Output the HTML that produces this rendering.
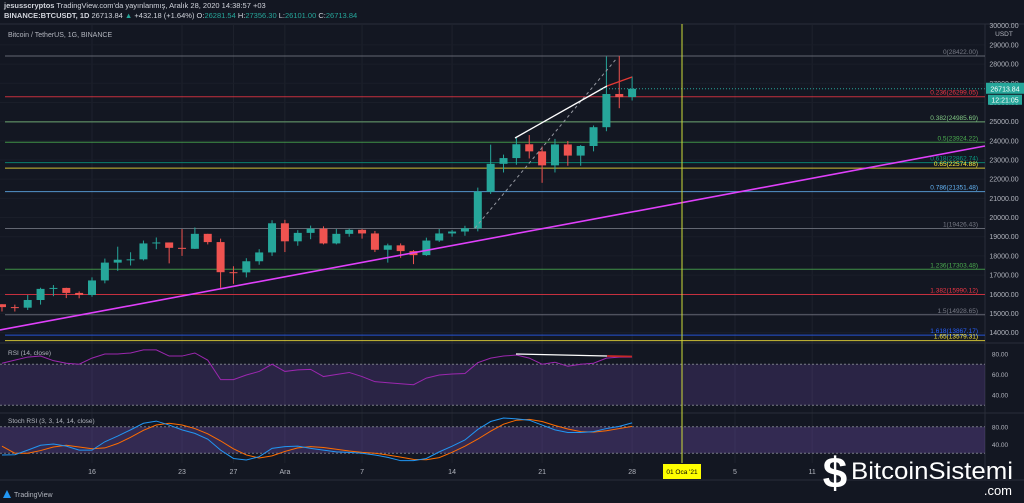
<!DOCTYPE html>
<html><head><meta charset="utf-8">
<style>
html,body{margin:0;padding:0;background:#131722;width:1024px;height:503px;overflow:hidden;font-family:"Liberation Sans",sans-serif;}
svg{display:block}
</style></head>
<body>
<svg id="c" width="1024" height="503" xmlns="http://www.w3.org/2000/svg">
<rect x="0" y="0" width="1024" height="503" fill="#131722"/>
<text x="4" y="8" fill="#d1d4dc" font-size="7.5"><tspan font-weight="bold">jesusscryptos</tspan> TradingView.com'da yayınlanmış, Aralık 28, 2020 14:38:57 +03</text>
<text x="4" y="18" fill="#d1d4dc" font-size="7.5"><tspan font-weight="bold">BINANCE:BTCUSDT, 1D</tspan> 26713.84 <tspan fill="#26a69a">▲</tspan> +432.18 (+1.64%) O:<tspan fill="#26a69a">26281.54</tspan> H:<tspan fill="#26a69a">27356.30</tspan> L:<tspan fill="#26a69a">26101.00</tspan> C:<tspan fill="#26a69a">26713.84</tspan></text>
<line x1="0" y1="24" x2="1024" y2="24" fill="none" stroke="#2a2e39"/>
<g id="grid"></g>
<g id="fib"></g>
<g id="price"></g>
<g id="rsi"></g>
<g id="stoch"></g>
<text x="8" y="37" fill="#b2b5be" font-size="7">Bitcoin / TetherUS, 1G, BINANCE</text>
</svg>
<script>
// ---- data ----
const dayOffsets = [-7,-6,-5,-4,-3,-2,-1,0,1,2,3,4,5,6,7,8,9,10,11,12,13,14,15,16,17,18,19,20,21,22,23,24,25,26,27,28,29,30,31,32,33,34,35,36,37,38,39,40,41,42];
const closes = [15330,15300,15700,16280,16330,16070,15960,16720,17650,17800,17820,18650,18700,18420,18370,19150,18720,17150,17140,17720,18180,19700,18760,19200,19420,18650,19150,19360,19170,18320,18550,18250,18040,18800,19170,19270,19440,21350,22800,23100,23820,23450,22720,23810,23230,23730,24710,26440,26280,26713];
const opens = [15480,15330,15300,15700,16280,16330,16070,15960,16720,17650,17800,17820,18650,18700,18420,18370,19150,18720,17150,17140,17720,18180,19700,18760,19200,19420,18650,19150,19360,19170,18320,18550,18250,18040,18800,19170,19270,19440,21350,22800,23100,23820,23450,22720,23810,23230,23730,24710,26440,26281];
const highs = [15480,15460,15960,16340,16480,16340,16150,16880,17860,18480,18190,18800,18960,18700,19400,19480,19150,18900,17460,17880,18350,19860,19880,19340,19580,19540,19400,19420,19400,19300,18640,18650,18300,18950,19400,19350,19570,21560,23800,23280,24150,24300,23700,24100,23990,23780,24800,28400,28420,27356];
const lows = [15100,15100,15180,15460,15900,15800,15790,15870,16570,17220,17500,17760,18350,17610,18000,18360,18600,16330,16540,16880,17540,18000,18200,18530,18870,18600,18600,19000,18900,18200,17650,17900,17570,18000,18730,19000,19050,19280,21230,22350,22750,23080,21810,22350,22700,22700,23450,24500,25700,26101];
const rsiValues = [71,74,77,78,73.5,71,70,76,80,80,81,84,84,78,78,81,74,55,55,59.5,63,70,63,64.5,65,58,60,62,58,53,52,51,50,56.5,59.5,60.5,61,71.5,76,78,79,76,70,72,68,70,71,76,77,77];
const stochK = [16,16.5,27,38,41,36,27,27,46,59,73,88,93,84,73,65,52,27,8,4.5,12,31,35,36,31,27,23,22,20,16,10.6,3,3,8,23,36,50,74,92,100,98,95,84,73,67,67,69,76,81,89];
const stochD = [36,20,20,26,34,38,34,30,32,42,56,72,84,88,84,76,64,48,30,16,9,14,24,32,35,33,29,25,22,20,16,11,6,5,10,22,36,52,70,86,95,97,92,83,75,69,68,71,76,81];
const fibRatios = ["0","0.236","0.382","0.5","0.618","0.65","0.786","1","1.236","1.382","1.5","1.618","1.65"];
const fibPrices = [28422.00,26299.05,24985.69,23924.22,22862.74,22574.88,21351.48,19426.43,17303.48,15990.12,14928.65,13867.17,13579.31];
const fibColors = ["#787b86","#f23645","#81c784","#4caf50","#089981","#ffeb3b","#64b5f6","#787b86","#4caf50","#f23645","#787b86","#2962ff","#ffeb3b"];
const priceTicks = [29000,28000,27000,26000,25000,24000,23000,22000,21000,20000,19000,18000,17000,16000,15000,14000];
const xTickLabels = ["16","23","27","Ara","7","14","21","28","5","11"];
const xTickDays = [0,7,11,15,21,28,35,42,50,56];
const rsiTicks = [80,60,40];
const stochTicks = [80,40];
const lastPrice = 26713.84;

// ---- axes ----
const NS="http://www.w3.org/2000/svg";
const PLOT_R=985;
const xDay=d=>92+d*12.86;
const yP=p=>56+(28422-p)*0.01918;
const yR=v=>354+(80-v)*1.025;
const yS=v=>462-v*0.44;
function mk(tag,attrs,parent,text){const e=document.createElementNS(NS,tag);for(const k in attrs)e.setAttribute(k,attrs[k]);if(text!==undefined)e.textContent=text;parent.appendChild(e);return e;}
const grid=document.getElementById('grid'),fib=document.getElementById('fib'),price=document.getElementById('price'),rsiG=document.getElementById('rsi'),st=document.getElementById('stoch');

// grid
xTickDays.forEach((d,i)=>{
  const l=mk('line',{x1:xDay(d),x2:xDay(d),y1:24,y2:463,stroke:'#1e222d'},grid);
  
  
  const t=mk('text',{x:xDay(d),y:474,fill:'#b2b5be','font-size':7,'text-anchor':'middle'},grid,xTickLabels[i]);
  
  
});
priceTicks.forEach(p=>{
  const l=mk('line',{x1:0,x2:PLOT_R,y1:yP(p),y2:yP(p),stroke:'#1a1e29'},grid);
  
  
  const t=mk('text',{x:1004,y:yP(p)+2.5,fill:'#b2b5be','font-size':7,'text-anchor':'middle'},grid,p.toFixed(2));
  
  
});
let tt=mk('text',{x:1004,y:28,fill:'#b2b5be','font-size':7,'text-anchor':'middle'},grid,'30000.00');


tt=mk('text',{x:1004,y:36,fill:'#b2b5be','font-size':6.5,'text-anchor':'middle'},grid,'USDT');


let ax=mk('line',{x1:PLOT_R,x2:PLOT_R,y1:24,y2:480,stroke:'#2a2e39'},grid);


ax=mk('line',{x1:0,x2:1024,y1:480,y2:480,stroke:'#2a2e39'},grid);



// fib levels
fibPrices.forEach((p,i)=>{
  const l=mk('line',{x1:5,x2:PLOT_R,y1:yP(p),y2:yP(p),stroke:fibColors[i],'stroke-width':1,opacity:0.8},fib);
  
  
  const t=mk('text',{x:978,y:yP(p)-2,fill:fibColors[i],'font-size':6.5,'text-anchor':'end'},fib,fibRatios[i]+'('+p.toFixed(2)+')');
  
  
});

// candles
closes.forEach((c,i)=>{
  const o=opens[i],x=xDay(dayOffsets[i]);const up=c>=o;const col=up?'#26a69a':'#ef5350';
  const w=mk('line',{x1:x,x2:x,y1:yP(highs[i]),y2:yP(lows[i]),stroke:col,'stroke-width':1},price);
  
  
  const top=yP(Math.max(o,c)),h=Math.max(1,Math.abs(yP(o)-yP(c)));
  const b=mk('rect',{x:x-4,y:top,width:8,height:h,fill:col},price);
  
  
});

// drawings
let e=mk('line',{x1:0,y1:330,x2:PLOT_R,y2:146,stroke:'#e040fb','stroke-width':1.6},price);


e=mk('line',{x1:475,y1:228,x2:617,y2:58,stroke:'#9598a1','stroke-width':1,'stroke-dasharray':'3,3'},price);


e=mk('line',{x1:515,y1:138,x2:607,y2:86,stroke:'#ffffff','stroke-width':1.3},price);


e=mk('line',{x1:607,y1:86,x2:632,y2:77,stroke:'#e53935','stroke-width':1.3},price);


e=mk('line',{x1:600,y1:yP(lastPrice),x2:PLOT_R,y2:yP(lastPrice),stroke:'#26a69a','stroke-dasharray':'1,2'},price);


e=mk('rect',{x:986,y:yP(lastPrice)-6,width:38,height:11,fill:'#26a69a'},price);


e=mk('text',{x:1005,y:yP(lastPrice)+2.5,fill:'#fff','font-size':7,'text-anchor':'middle'},price,lastPrice.toFixed(2));


e=mk('rect',{x:988,y:yP(lastPrice)+6,width:34,height:10,fill:'#26a69a'},price);


e=mk('text',{x:1005,y:yP(lastPrice)+13.5,fill:'#fff','font-size':7,'text-anchor':'middle'},price,'12:21:05');



// RSI panel
e=mk('line',{x1:0,x2:1024,y1:343,y2:343,stroke:'#2a2e39'},rsiG);


e=mk('rect',{x:0,y:yR(70),width:PLOT_R,height:yR(30)-yR(70),fill:'#7e57c2',opacity:0.22},rsiG);


[70,30].forEach(v=>{const l=mk('line',{x1:0,x2:PLOT_R,y1:yR(v),y2:yR(v),stroke:'#787b86','stroke-dasharray':'2,2'},rsiG);

});
rsiTicks.forEach(v=>{const t=mk('text',{x:1000,y:yR(v)+2.5,fill:'#b2b5be','font-size':6.5,'text-anchor':'middle'},rsiG,v.toFixed(2));

});
e=mk('polyline',{points:rsiValues.map((v,i)=>xDay(dayOffsets[i])+','+yR(v)).join(' '),fill:'none',stroke:'#9c27b0','stroke-width':1},rsiG);


e=mk('line',{x1:516,y1:354,x2:607,y2:356,stroke:'#ffffff','stroke-width':1.3},rsiG);


e=mk('line',{x1:607,y1:356,x2:632,y2:356.5,stroke:'#c62828','stroke-width':1.8},rsiG);


e=mk('text',{x:8,y:355,fill:'#b2b5be','font-size':6.5},rsiG,'RSI (14, close)');



// Stoch panel
e=mk('line',{x1:0,x2:1024,y1:413,y2:413,stroke:'#2a2e39'},st);


e=mk('rect',{x:0,y:yS(80),width:PLOT_R,height:yS(20)-yS(80),fill:'#7e57c2',opacity:0.3},st);


[80,20].forEach(v=>{const l=mk('line',{x1:0,x2:PLOT_R,y1:yS(v),y2:yS(v),stroke:'#787b86','stroke-dasharray':'2,2'},st);

});
stochTicks.forEach(v=>{const t=mk('text',{x:1000,y:yS(v)+2.5,fill:'#b2b5be','font-size':6.5,'text-anchor':'middle'},st,v.toFixed(2));

});
e=mk('polyline',{points:stochD.map((v,i)=>xDay(dayOffsets[i])+','+yS(v)).join(' '),fill:'none',stroke:'#ff6d00','stroke-width':1},st);


e=mk('polyline',{points:stochK.map((v,i)=>xDay(dayOffsets[i])+','+yS(v)).join(' '),fill:'none',stroke:'#2196f3','stroke-width':1},st);


e=mk('text',{x:8,y:423,fill:'#b2b5be','font-size':6.5},st,'Stoch RSI (3, 3, 14, 14, close)');



// vertical date marker
e=mk('line',{x1:682,x2:682,y1:24,y2:463,stroke:'#cddc39','stroke-width':1},st);


e=mk('rect',{x:663,y:464,width:38,height:15,fill:'#ffff00'},st);


e=mk('text',{x:682,y:474,fill:'#000','font-size':6.5,'text-anchor':'middle'},st,"01 Oca '21");



// footer & watermark
e=mk('text',{x:14,y:497,fill:'#b2b5be','font-size':7},st,'TradingView');


e=mk('path',{d:'M3 498 L7 490 L11 498 Z',fill:'#2196f3'},st);


e=mk('text',{x:835,y:488,fill:'#ffffff','font-size':44,'font-weight':'bold','text-anchor':'middle'},st,'$');


e=mk('text',{x:851,y:479,fill:'#ffffff','font-size':24,textLength:162,lengthAdjust:'spacingAndGlyphs'},st,'BitcoinSistemi');


e=mk('text',{x:1012,y:495,fill:'#ffffff','font-size':13,'text-anchor':'end'},st,'.com');


</script>
</body></html>
